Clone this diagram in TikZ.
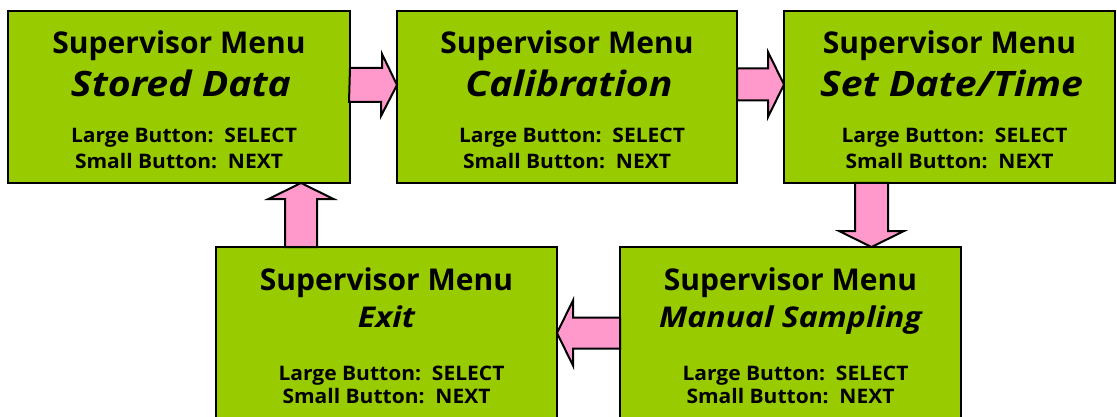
\documentclass[tikz,border=0pt]{standalone}
\usepackage{fontspec}
\setmainfont{Open Sans}
\newfontfamily\itemfont[FakeStretch=1.12]{Open Sans}
\newfontfamily\hintfont[FakeStretch=1.05]{Open Sans}
\usetikzlibrary{positioning}
\definecolor{menugreen}{HTML}{99CC00}
\definecolor{arrowpink}{HTML}{FF99CC}

\begin{document}
\begin{tikzpicture}[x=1pt,y=1pt,node distance=47pt and 47pt,
  menubox/.style={draw,fill=menugreen,line width=2.4pt,minimum height=172pt,inner sep=0pt,outer sep=0pt},
  headline/.style={anchor=base,font=\fontsize{30}{36}\selectfont\bfseries},
  itemline/.style={anchor=base,font=\itemfont\fontsize{35}{42}\selectfont\bfseries\itshape},
  smallitem/.style={anchor=base,font=\itemfont\fontsize{28.6}{35}\selectfont\bfseries\itshape},
  hintline/.style={anchor=base,font=\hintfont\fontsize{20}{24}\selectfont\bfseries},
  blockarrow/.style={draw,fill=arrowpink,line width=2pt,line join=miter}]
\clip (0,0) rectangle (1117,-417);

% top row of menu screens
\node[menubox,minimum width=342pt,anchor=north west] (s1) at (8,-11) {};
\node[menubox,minimum width=340pt,right=of s1] (s2) {};
\node[menubox,minimum width=331pt,right=of s2] (s3) {};
% bottom row
\node[menubox,minimum width=341pt,anchor=north west] (s4) at (216,-247) {};
\node[menubox,minimum width=341pt,right=63pt of s4] (s5) {};

\node[headline] (s1h) at ([yshift=-43pt]s1.north) {Supervisor Menu};
\node[itemline] (s1i) at ([xshift=2pt,yshift=-86pt]s1.north) {Stored Data};
\node[hintline] (s1l) at ([xshift=5pt,yshift=-132pt]s1.north) {Large Button:\ \ SELECT};
\node[hintline] (s1s) at ([yshift=-157pt]s1.north) {Small Button:\ \ NEXT};

\node[headline] (s2h) at ([yshift=-43pt]s2.north) {Supervisor Menu};
\node[itemline] (s2i) at ([xshift=2pt,yshift=-86pt]s2.north) {Calibration};
\node[hintline] (s2l) at ([xshift=5pt,yshift=-132pt]s2.north) {Large Button:\ \ SELECT};
\node[hintline] (s2s) at ([yshift=-157pt]s2.north) {Small Button:\ \ NEXT};

\node[headline] (s3h) at ([yshift=-43pt]s3.north) {Supervisor Menu};
\node[itemline] (s3i) at ([xshift=2pt,yshift=-86pt]s3.north) {Set Date/Time};
\node[hintline] (s3l) at ([xshift=5pt,yshift=-132pt]s3.north) {Large Button:\ \ SELECT};
\node[hintline] (s3s) at ([yshift=-157pt]s3.north) {Small Button:\ \ NEXT};

\node[headline] (s4h) at ([yshift=-43pt]s4.north) {Supervisor Menu};
\node[smallitem] (s4i) at ([yshift=-80pt]s4.north) {Exit};
\node[hintline] (s4l) at ([xshift=5pt,yshift=-133pt]s4.north) {Large Button:\ \ SELECT};
\node[hintline] (s4s) at ([yshift=-156pt]s4.north) {Small Button:\ \ NEXT};

\node[headline] (s5h) at ([yshift=-43pt]s5.north) {Supervisor Menu};
\node[smallitem] (s5i) at ([yshift=-80pt]s5.north) {Manual Sampling};
\node[hintline] (s5l) at ([xshift=5pt,yshift=-133pt]s5.north) {Large Button:\ \ SELECT};
\node[hintline] (s5s) at ([yshift=-156pt]s5.north) {Small Button:\ \ NEXT};

% block arrows: NEXT goes round the loop
\draw[blockarrow] ([yshift=29pt]s1.east) -- ++(32,0) -- ++(0,14) -- ([yshift=12pt]s2.west)
  -- ++(-16,-31) -- ++(0,14) -- ++(-32,0) -- cycle;
\draw[blockarrow] ([yshift=28.5pt]s2.east) -- ++(31,0) -- ++(0,16.5) -- ([yshift=12.5pt]s3.west)
  -- ++(-16,-32.5) -- ++(0,16.5) -- ++(-31,0) -- cycle;
\draw[blockarrow] ([xshift=-94.5pt]s3.south) -- ++(0,-48) -- ++(-16,0) -- ([xshift=81pt]s5.north)
  -- ++(32.5,16) -- ++(-16,0) -- ++(0,48) -- cycle;
\draw[blockarrow] ([yshift=15.5pt]s5.west) -- ++(-47,0) -- ++(0,17) -- (s4.east)
  -- ++(16,-32.5) -- ++(0,17) -- ++(47,0) -- cycle;
\draw[blockarrow] ([xshift=-101.5pt]s4.north) -- ++(0,48) -- ++(-16.5,0) -- ([xshift=122pt]s1.south)
  -- ++(32.5,-16) -- ++(-16.5,0) -- ++(0,-48) -- cycle;
\end{tikzpicture}
\end{document}
